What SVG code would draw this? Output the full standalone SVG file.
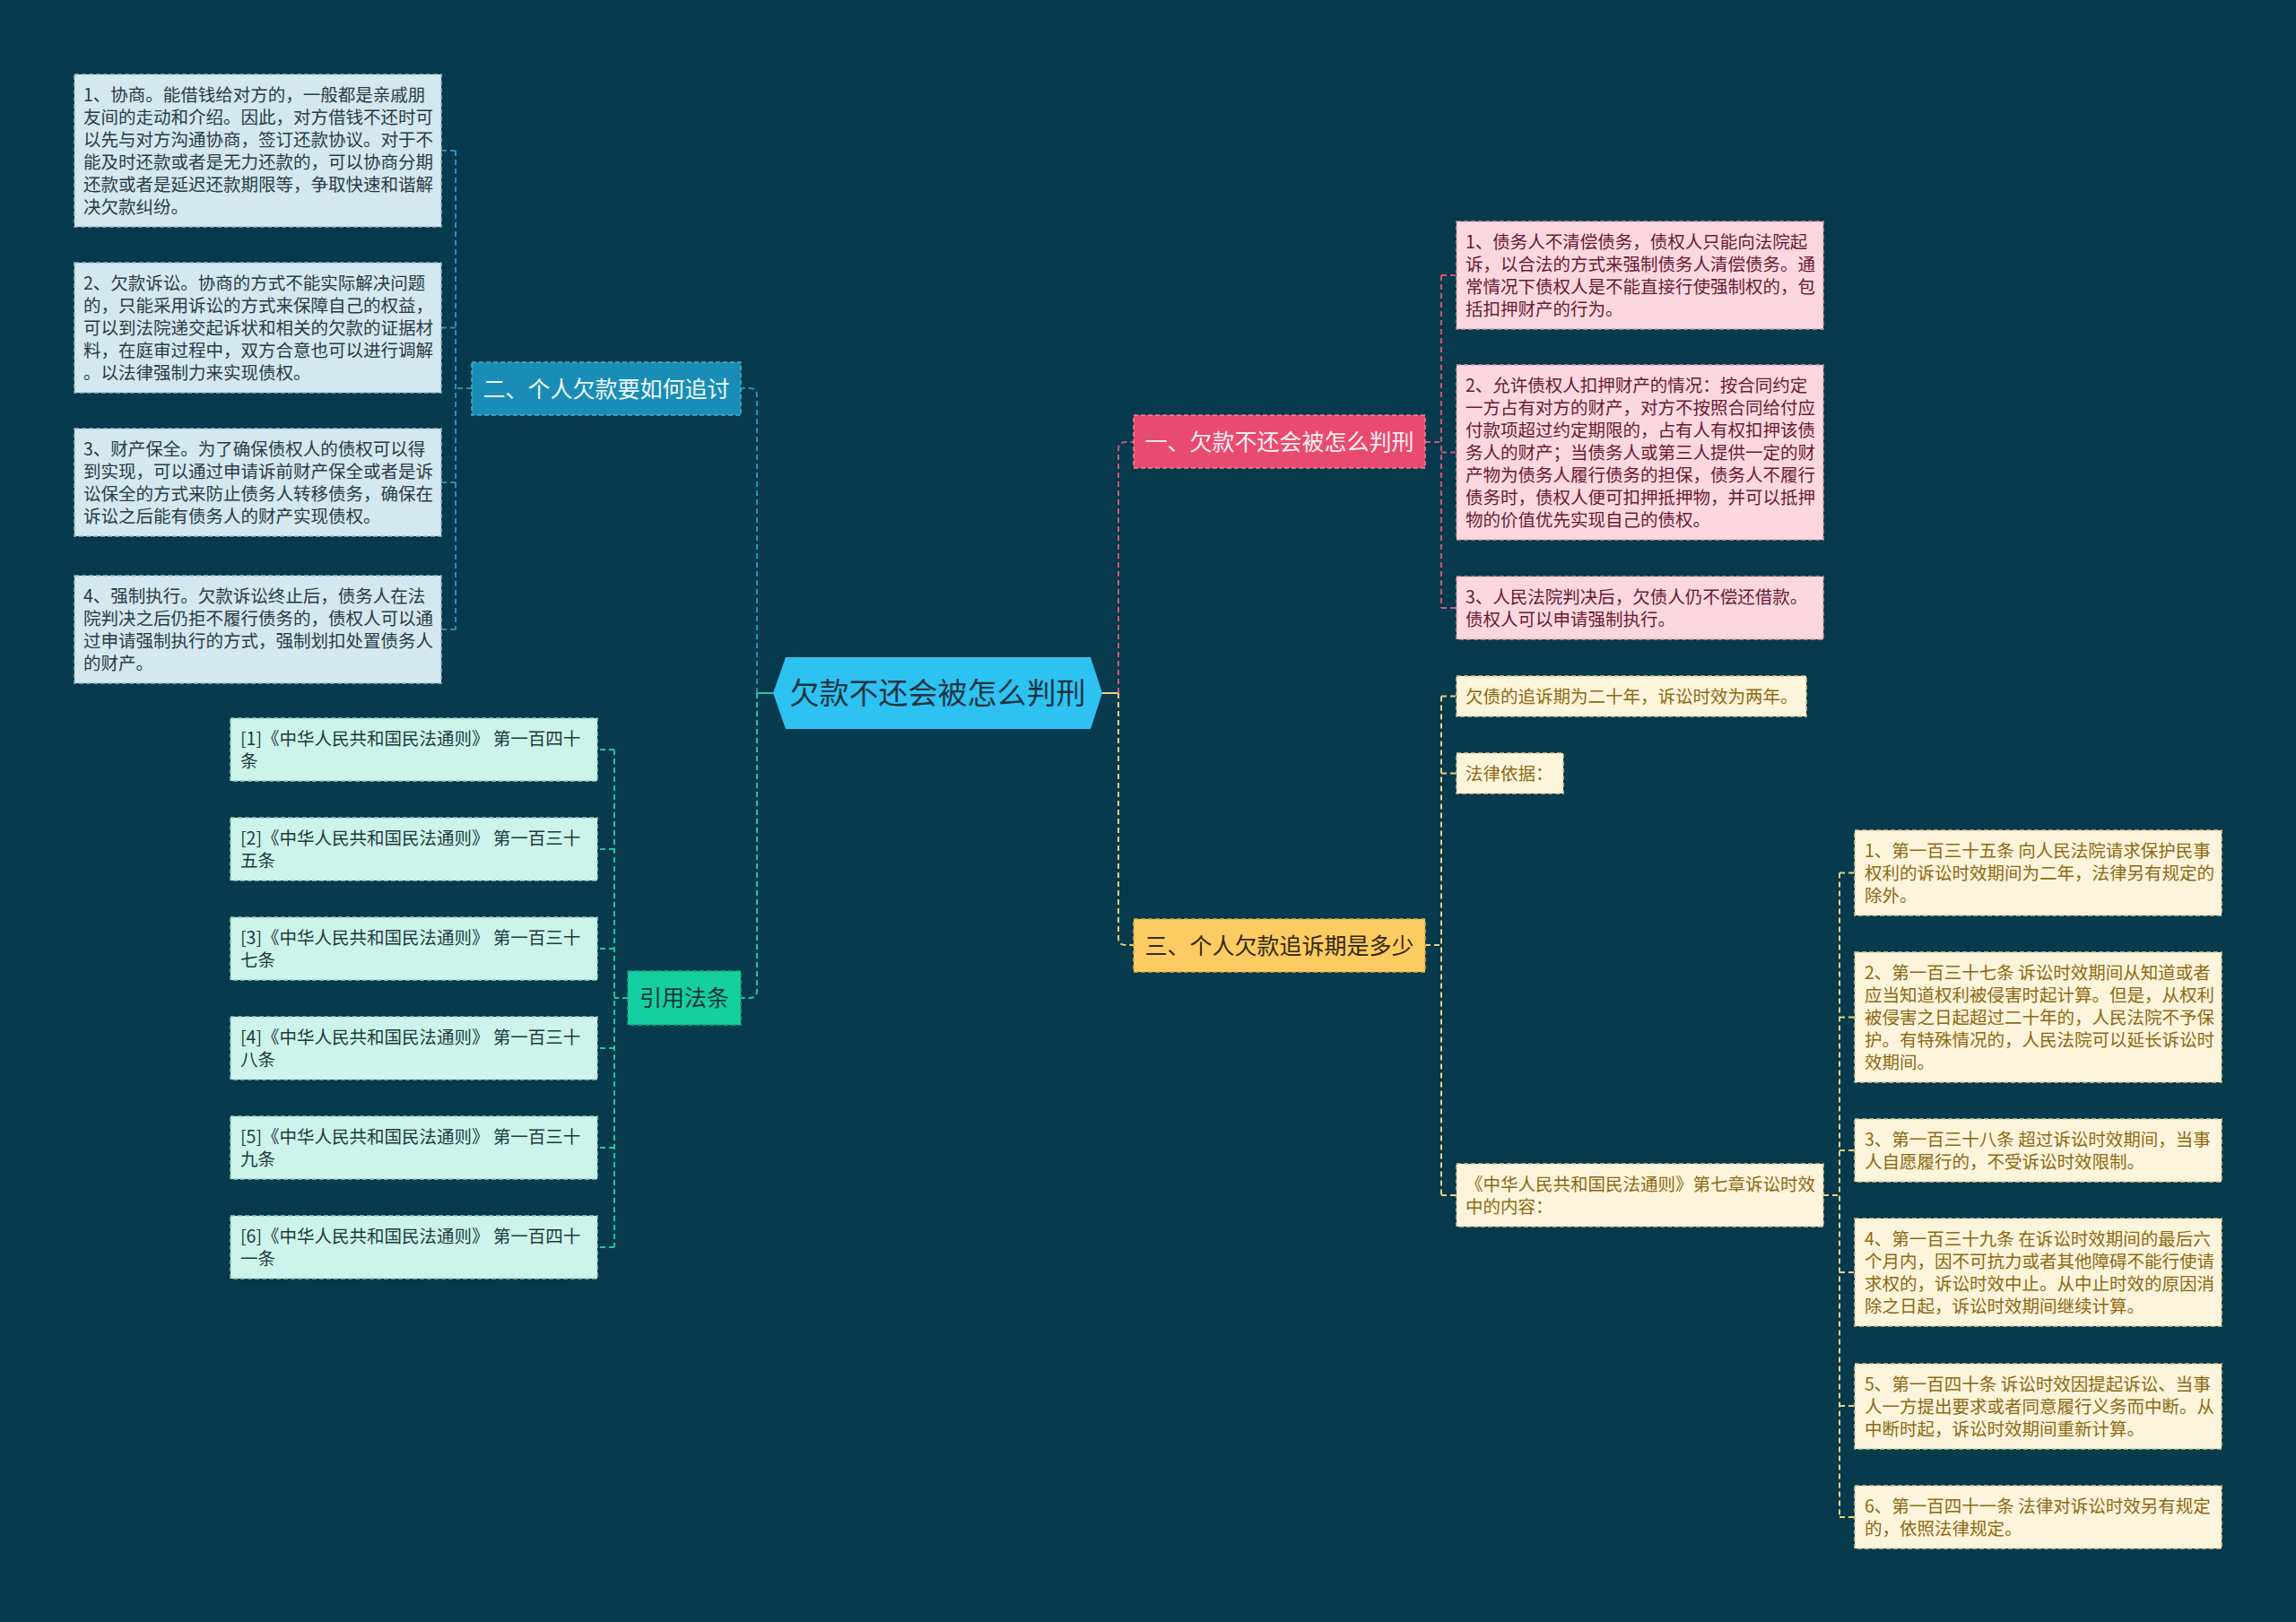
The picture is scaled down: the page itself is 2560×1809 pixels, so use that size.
<svg xmlns="http://www.w3.org/2000/svg" width="2560" height="1809" viewBox="0 0 2560 1809">
<style>
text{font-family:"Noto Sans CJK SC","Noto Sans",sans-serif}
.t{font-size:19.5px}
.br{font-size:25px}
.c{fill:none;stroke-width:2}
.cb{stroke:#2a8fba;stroke-dasharray:6 4}
.cp{stroke:#c9587c;stroke-dasharray:6 4}
.cy{stroke:#ecd083;stroke-dasharray:6 4}
.cg{stroke:#20c79c;stroke-dasharray:6 4}
.nb{fill:#d3e8ef;stroke:#9ab9c6;stroke-width:1.5;stroke-dasharray:5 3}
.np{fill:#fbd8e0;stroke:#d79aab;stroke-width:1.5;stroke-dasharray:5 3}
.ny{fill:#fdf4dc;stroke:#d8c79a;stroke-width:1.5;stroke-dasharray:5 3}
.nm{fill:#cdf4ea;stroke:#94cbbd;stroke-width:1.5;stroke-dasharray:5 3}
.tb{fill:#2a3c44}
.tp{fill:#6a1a32}
.ty{fill:#8c6a12}
.tm{fill:#1f3a3c}
</style>
<rect width="2560" height="1809" fill="#073a4c"/>
<g id="connectors">
<path class="c" d="M862 773H844" stroke="#20c79c" stroke-width="3"/>
<path class="c" d="M1229 773H1247" stroke="#f4d27a" stroke-width="3"/>
<path class="c cb" d="M844 773V441Q844 433 836 433H826"/>
<path class="c cg" d="M844 773V1105Q844 1113 836 1113H826"/>
<path class="c cp" d="M1247 773V501Q1247 493 1255 493H1264"/>
<path class="c cy" d="M1247 773V1046Q1247 1054 1255 1054H1264"/>
<path class="c cb" d="M526 433H508M508 168V702M508 168H492M508 365.5H492M508 538H492M508 702H492"/>
<path class="c cp" d="M1589 493H1607M1607 307V678M1607 307H1624M1607 504.5H1624M1607 678H1624"/>
<path class="c cy" d="M1589 1054H1607M1607 776.5V1333M1607 776.5H1624M1607 862.5H1624M1607 1333H1624"/>
<path class="c cy" d="M2033 1333H2051M2051 973.5V1692M2051 973.5H2068M2051 1134.5H2068M2051 1283H2068M2051 1419H2068M2051 1568H2068M2051 1692H2068"/>
<path class="c cg" d="M700 1113H685M685 836V1391M685 836H666M685 947H666M685 1058H666M685 1169H666M685 1280H666M685 1391H666"/>
</g>
<g id="root">
<polygon points="862,773 876,733 1216,733 1229,773 1216,813 876,813" fill="#2ec2f2"/>
<text x="1045.5" y="785" font-size="33" text-anchor="middle" fill="#1c3442">欠款不还会被怎么判刑</text>
</g>
<g id="b2">
<rect x="526" y="404" width="300" height="59" fill="#1a8db6" stroke="#4aaed2" stroke-width="1.5" stroke-dasharray="5 3"/>
<text class="br" x="676" y="442.5" text-anchor="middle" fill="#eef8fb">二、个人欠款要如何追讨</text>
</g>
<g id="b1">
<rect x="1264" y="463" width="325" height="59" fill="#e94a6f" stroke="#f27d99" stroke-width="1.5" stroke-dasharray="5 3"/>
<text class="br" x="1426.5" y="501.5" text-anchor="middle" fill="#fdf0f3">一、欠款不还会被怎么判刑</text>
</g>
<g id="b3">
<rect x="1264" y="1025" width="325" height="59" fill="#fccb62" stroke="#d9a93f" stroke-width="1.5" stroke-dasharray="5 3"/>
<text class="br" x="1426.5" y="1063.5" text-anchor="middle" fill="#33290f">三、个人欠款追诉期是多少</text>
</g>
<g id="b4">
<rect x="700" y="1083" width="126" height="60" fill="#16cfa0" stroke="#0fa882" stroke-width="1.5" stroke-dasharray="5 3"/>
<text class="br" x="763" y="1122" text-anchor="middle" fill="#0f3535">引用法条</text>
</g>
<g id="l1">
<rect class="nb" x="83" y="83" width="409" height="170"/>
<text class="t tb" x="93"><tspan x="93" y="113">1、协商。能借钱给对方的，一般都是亲戚朋</tspan><tspan x="93" y="138">友间的走动和介绍。因此，对方借钱不还时可</tspan><tspan x="93" y="163">以先与对方沟通协商，签订还款协议。对于不</tspan><tspan x="93" y="188">能及时还款或者是无力还款的，可以协商分期</tspan><tspan x="93" y="213">还款或者是延迟还款期限等，争取快速和谐解</tspan><tspan x="93" y="238">决欠款纠纷。</tspan></text>
</g>
<g id="l2">
<rect class="nb" x="83" y="293" width="409" height="145"/>
<text class="t tb" x="93"><tspan x="93" y="323">2、欠款诉讼。协商的方式不能实际解决问题</tspan><tspan x="93" y="348">的，只能采用诉讼的方式来保障自己的权益，</tspan><tspan x="93" y="373">可以到法院递交起诉状和相关的欠款的证据材</tspan><tspan x="93" y="398">料，在庭审过程中，双方合意也可以进行调解</tspan><tspan x="93" y="423">。以法律强制力来实现债权。</tspan></text>
</g>
<g id="l3">
<rect class="nb" x="83" y="478" width="409" height="120"/>
<text class="t tb" x="93"><tspan x="93" y="508">3、财产保全。为了确保债权人的债权可以得</tspan><tspan x="93" y="533">到实现，可以通过申请诉前财产保全或者是诉</tspan><tspan x="93" y="558">讼保全的方式来防止债务人转移债务，确保在</tspan><tspan x="93" y="583">诉讼之后能有债务人的财产实现债权。</tspan></text>
</g>
<g id="l4">
<rect class="nb" x="83" y="642" width="409" height="120"/>
<text class="t tb" x="93"><tspan x="93" y="672">4、强制执行。欠款诉讼终止后，债务人在法</tspan><tspan x="93" y="697">院判决之后仍拒不履行债务的，债权人可以通</tspan><tspan x="93" y="722">过申请强制执行的方式，强制划扣处置债务人</tspan><tspan x="93" y="747">的财产。</tspan></text>
</g>
<g id="p1">
<rect class="np" x="1624" y="247" width="409" height="120"/>
<text class="t tp"><tspan x="1634" y="277">1、债务人不清偿债务，债权人只能向法院起</tspan><tspan x="1634" y="302">诉，以合法的方式来强制债务人清偿债务。通</tspan><tspan x="1634" y="327">常情况下债权人是不能直接行使强制权的，包</tspan><tspan x="1634" y="352">括扣押财产的行为。</tspan></text>
</g>
<g id="p2">
<rect class="np" x="1624" y="407" width="409" height="195"/>
<text class="t tp"><tspan x="1634" y="437">2、允许债权人扣押财产的情况：按合同约定</tspan><tspan x="1634" y="462">一方占有对方的财产，对方不按照合同给付应</tspan><tspan x="1634" y="487">付款项超过约定期限的，占有人有权扣押该债</tspan><tspan x="1634" y="512">务人的财产；当债务人或第三人提供一定的财</tspan><tspan x="1634" y="537">产物为债务人履行债务的担保，债务人不履行</tspan><tspan x="1634" y="562">债务时，债权人便可扣押抵押物，并可以抵押</tspan><tspan x="1634" y="587">物的价值优先实现自己的债权。</tspan></text>
</g>
<g id="p3">
<rect class="np" x="1624" y="643" width="409" height="70"/>
<text class="t tp"><tspan x="1634" y="673">3、人民法院判决后，欠债人仍不偿还借款。</tspan><tspan x="1634" y="698">债权人可以申请强制执行。</tspan></text>
</g>
<g id="y1">
<rect class="ny" x="1624" y="754" width="390" height="45"/>
<text class="t ty" x="1634" y="784">欠债的追诉期为二十年，诉讼时效为两年。</text>
</g>
<g id="y2">
<rect class="ny" x="1624" y="840" width="119" height="45"/>
<text class="t ty" x="1634" y="870">法律依据：</text>
</g>
<g id="y3">
<rect class="ny" x="1624" y="1298" width="409" height="70"/>
<text class="t ty"><tspan x="1634" y="1328">《中华人民共和国民法通则》第七章诉讼时效</tspan><tspan x="1634" y="1353">中的内容：</tspan></text>
</g>
<g id="s1">
<rect class="ny" x="2068" y="926" width="409" height="95"/>
<text class="t ty"><tspan x="2079" y="956">1、第一百三十五条 向人民法院请求保护民事</tspan><tspan x="2079" y="981">权利的诉讼时效期间为二年，法律另有规定的</tspan><tspan x="2079" y="1006">除外。</tspan></text>
</g>
<g id="s2">
<rect class="ny" x="2068" y="1062" width="409" height="145"/>
<text class="t ty"><tspan x="2079" y="1092">2、第一百三十七条 诉讼时效期间从知道或者</tspan><tspan x="2079" y="1117">应当知道权利被侵害时起计算。但是，从权利</tspan><tspan x="2079" y="1142">被侵害之日起超过二十年的，人民法院不予保</tspan><tspan x="2079" y="1167">护。有特殊情况的，人民法院可以延长诉讼时</tspan><tspan x="2079" y="1192">效期间。</tspan></text>
</g>
<g id="s3">
<rect class="ny" x="2068" y="1248" width="409" height="70"/>
<text class="t ty"><tspan x="2079" y="1278">3、第一百三十八条 超过诉讼时效期间，当事</tspan><tspan x="2079" y="1303">人自愿履行的，不受诉讼时效限制。</tspan></text>
</g>
<g id="s4">
<rect class="ny" x="2068" y="1359" width="409" height="120"/>
<text class="t ty"><tspan x="2079" y="1389">4、第一百三十九条 在诉讼时效期间的最后六</tspan><tspan x="2079" y="1414">个月内，因不可抗力或者其他障碍不能行使请</tspan><tspan x="2079" y="1439">求权的，诉讼时效中止。从中止时效的原因消</tspan><tspan x="2079" y="1464">除之日起，诉讼时效期间继续计算。</tspan></text>
</g>
<g id="s5">
<rect class="ny" x="2068" y="1521" width="409" height="95"/>
<text class="t ty"><tspan x="2079" y="1551">5、第一百四十条 诉讼时效因提起诉讼、当事</tspan><tspan x="2079" y="1576">人一方提出要求或者同意履行义务而中断。从</tspan><tspan x="2079" y="1601">中断时起，诉讼时效期间重新计算。</tspan></text>
</g>
<g id="s6">
<rect class="ny" x="2068" y="1657" width="409" height="70"/>
<text class="t ty"><tspan x="2079" y="1687">6、第一百四十一条 法律对诉讼时效另有规定</tspan><tspan x="2079" y="1712">的，依照法律规定。</tspan></text>
</g>
<g id="m1">
<rect class="nm" x="257" y="801" width="409" height="70"/>
<text class="t tm"><tspan x="268" y="831">[1]《中华人民共和国民法通则》 第一百四十</tspan><tspan x="268" y="856">条</tspan></text>
</g>
<g id="m2">
<rect class="nm" x="257" y="912" width="409" height="70"/>
<text class="t tm"><tspan x="268" y="942">[2]《中华人民共和国民法通则》 第一百三十</tspan><tspan x="268" y="967">五条</tspan></text>
</g>
<g id="m3">
<rect class="nm" x="257" y="1023" width="409" height="70"/>
<text class="t tm"><tspan x="268" y="1053">[3]《中华人民共和国民法通则》 第一百三十</tspan><tspan x="268" y="1078">七条</tspan></text>
</g>
<g id="m4">
<rect class="nm" x="257" y="1134" width="409" height="70"/>
<text class="t tm"><tspan x="268" y="1164">[4]《中华人民共和国民法通则》 第一百三十</tspan><tspan x="268" y="1189">八条</tspan></text>
</g>
<g id="m5">
<rect class="nm" x="257" y="1245" width="409" height="70"/>
<text class="t tm"><tspan x="268" y="1275">[5]《中华人民共和国民法通则》 第一百三十</tspan><tspan x="268" y="1300">九条</tspan></text>
</g>
<g id="m6">
<rect class="nm" x="257" y="1356" width="409" height="70"/>
<text class="t tm"><tspan x="268" y="1386">[6]《中华人民共和国民法通则》 第一百四十</tspan><tspan x="268" y="1411">一条</tspan></text>
</g>
</svg>
